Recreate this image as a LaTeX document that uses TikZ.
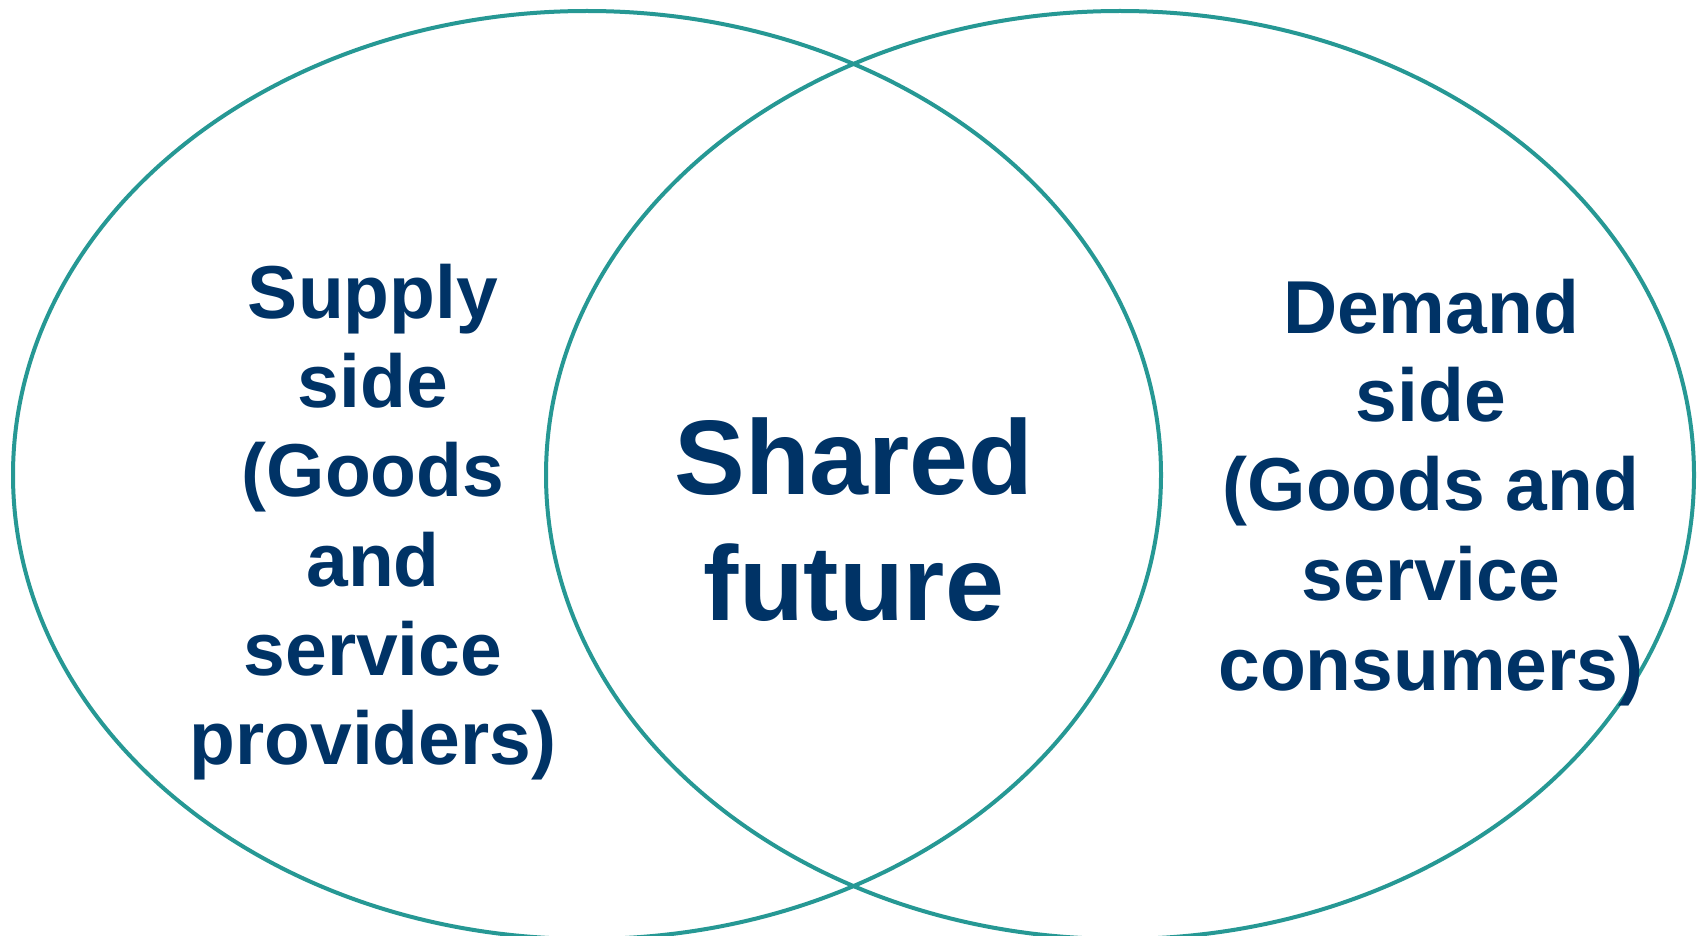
\documentclass[tikz,border=0pt]{standalone}
\usepackage{fontspec}
\setmainfont{Liberation Sans}
\definecolor{ringteal}{RGB}{38,152,148}
\definecolor{textnavy}{RGB}{0,51,102}
\begin{document}
\begin{tikzpicture}[x=1pt,y=-1pt,
  ring/.style={draw=ringteal, line width=4pt},
  sidetext/.style={font=\fontsize{75}{90}\selectfont\bfseries, text=textnavy, anchor=base, inner sep=0pt},
  midtext/.style={font=\fontsize{106}{127}\selectfont\bfseries, text=textnavy, anchor=base, inner sep=0pt}]
\useasboundingbox (0,0) rectangle (1701,936);
\fill[white] (0,0) rectangle (1701,936);
\draw[ring] (587,475) ellipse [x radius=574pt, y radius=464pt];
\draw[ring] (1120,475) ellipse [x radius=574pt, y radius=464pt];
% left text
\node[sidetext] (l1) at (373,318) {Supply};
\node[sidetext] (l2) at (373,407) {side};
\node[sidetext] (l3) at (373,496) {(Goods};
\node[sidetext] (l4) at (373,586) {and};
\node[sidetext] (l5) at (373,675) {service};
\node[sidetext] (l6) at (373,764) {providers)};
% middle text
\node[midtext] (m1) at (854,494) {Shared};
\node[midtext] (m2) at (854,620) {future};
% right text
\node[sidetext] (r1) at (1431,333) {Demand};
\node[sidetext] (r2) at (1431,421) {side};
\node[sidetext] (r3) at (1431,510) {(Goods and};
\node[sidetext] (r4) at (1431,600) {service};
\node[sidetext] (r5) at (1431,690) {consumers)};
\end{tikzpicture}
\end{document}
